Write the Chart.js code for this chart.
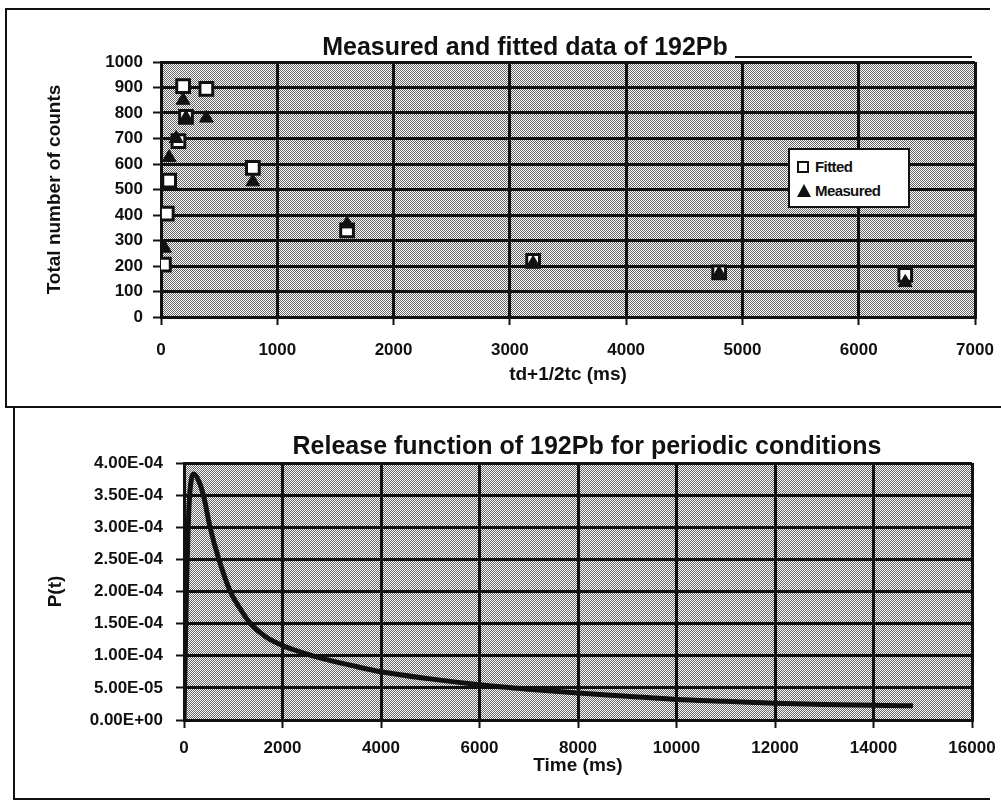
<!DOCTYPE html>
<html>
<head>
<meta charset="utf-8">
<script src="https://cdn.jsdelivr.net/npm/chart.js@4.4.1/dist/chart.umd.min.js"></script>
<style>
  html, body { margin: 0; padding: 0; background: #fff; }
  body { width: 1001px; height: 805px; position: relative; overflow: hidden; font-family: "Liberation Sans", Arial, sans-serif; }
  .wrap { position: absolute; left: 0; width: 1001px; }
  #topWrap { top: 0; height: 407px; }
  #botWrap { top: 407px; height: 398px; }
  .rule { position: absolute; background: #111; }
  #legend {
    position: absolute; left: 788px; top: 148px; width: 118px; height: 56px;
    background: #fff; border: 2px solid #111; font-weight: bold; font-size: 15px;
    font-family: "Liberation Sans", Arial, sans-serif; color: #111; letter-spacing: -0.6px;
  }
  .item { position: absolute; left: 7px; height: 16px; line-height: 16px; }
  .sq { display: inline-block; width: 8px; height: 8px; border: 2px solid #111; background: #fff; vertical-align: -1px; margin-right: 6px; }
  .tri { display: inline-block; width: 0; height: 0; border-left: 7px solid transparent; border-right: 7px solid transparent; border-bottom: 13px solid #111; vertical-align: -1px; margin-right: 4px; }
</style>
</head>
<body>
<div class="wrap" id="topWrap"><canvas id="countsChart" width="1001" height="407"></canvas></div>
<div class="wrap" id="botWrap"><canvas id="releaseChart" width="1001" height="398"></canvas></div>

<!-- page frame lines of the scanned figure -->
<div class="rule" style="left:5px; top:8px; width:985px; height:2px;"></div>
<div class="rule" style="left:5px; top:8px; width:2px; height:400px;"></div>
<div class="rule" style="left:5px; top:406px; width:996px; height:2px;"></div>
<div class="rule" style="left:13px; top:407px; width:2px; height:393px;"></div>
<div class="rule" style="left:13px; top:798px; width:977px; height:2px;"></div>
<div class="rule" style="left:735px; top:56px; width:237px; height:2px;"></div>

<div id="legend">
  <div class="item" style="top:9px;"><span class="sq"></span>Fitted</div>
  <div class="item" style="top:33px;"><span class="tri"></span>Measured</div>
</div>

<script>
// ── Data: measured vs fitted counts (top panel) ───────────────────────────────
const fittedX   = [25, 50, 70, 150, 190, 215, 390, 790, 1600, 3200, 4800, 6400];
const fittedY   = [205, 405, 535, 690, 905, 785, 895, 585, 340, 220, 175, 165];
const measuredX = [30, 70, 130, 190, 215, 390, 790, 1600, 3200, 4800, 6400];
const measuredY = [270, 625, 700, 850, 780, 780, 530, 365, 210, 170, 135];

// ── Data: release function P(t) (bottom panel) ───────────────────────────────
const timeMs   = [0, 50, 100, 150, 200, 300, 400, 530, 700, 940, 1150, 1350, 1650, 2000,
                  2400, 2800, 3400, 4000, 5000, 6000, 7000, 8000, 9000, 10000, 11000,
                  12000, 13000, 14000, 14800];
const releaseP = [0, 2.0e-4, 3.3e-4, 3.75e-4, 3.83e-4, 3.72e-4, 3.48e-4, 3.0e-4, 2.52e-4,
                  2.0e-4, 1.72e-4, 1.5e-4, 1.3e-4, 1.16e-4, 1.05e-4, 0.96e-4, 0.85e-4,
                  0.75e-4, 0.64e-4, 0.55e-4, 0.48e-4, 0.42e-4, 0.37e-4, 0.32e-4, 0.29e-4,
                  0.26e-4, 0.24e-4, 0.23e-4, 0.22e-4];

const INK = "#111";
const FONT = "'Liberation Sans', Arial, sans-serif";

/** Halftone-ish stipple used for the plot background. */
function makeStipple(ctx) {
  const tile = document.createElement("canvas");
  tile.width = 2; tile.height = 2;
  const t = tile.getContext("2d");
  t.fillStyle = "#fff"; t.fillRect(0, 0, 2, 2);
  t.fillStyle = "#666"; t.fillRect(0, 0, 1, 1); t.fillRect(1, 1, 1, 1);
  return ctx.createPattern(tile, "repeat");
}

// paints the plot background and draws the heading text
const panelPlugin = {
  id: "panel",
  beforeDraw(chart, args, opts) {
    const { ctx, chartArea: a } = chart;
    ctx.save();
    ctx.fillStyle = makeStipple(ctx);
    ctx.fillRect(a.left, a.top, a.right - a.left, a.bottom - a.top);
    ctx.restore();
  },
  afterDraw(chart, args, opts) {
    const { ctx } = chart;
    ctx.save();
    ctx.fillStyle = INK;
    ctx.font = `bold ${opts.size}px ${FONT}`;
    ctx.textAlign = "center";
    ctx.textBaseline = "middle";
    ctx.fillText(opts.text, opts.x, opts.y);
    ctx.restore();
  },
};

const plain = (v) => String(v);

function sciLabel(v) {
  if (Math.abs(v) < 1e-12) return "0.00E+00";
  const [m, e] = v.toExponential(2).split("e");
  const n = parseInt(e, 10);
  return `${m}E${n < 0 ? "-" : "+"}${String(Math.abs(n)).padStart(2, "0")}`;
}

function axis(min, max, step, titleText, o) {
  return {
    type: "linear",
    min, max,
    afterFit: o.fit,
    border: { display: true, color: INK, width: 3 },
    grid: { color: INK, lineWidth: 3, tickLength: 8, tickColor: INK, tickWidth: 2 },
    ticks: { stepSize: step, padding: o.tickPad, color: INK, callback: o.fmt || plain,
             font: { family: FONT, weight: "bold", size: 17 } },
    title: { display: true, text: titleText, color: INK, padding: { top: o.titlePad, bottom: 0 },
             font: { family: FONT, weight: "bold", size: 19 } },
  };
}

// x axis: fixed height, and let the end labels hang into the page margin
const fitX = (h) => (s) => { s.height = h; s.paddingLeft = 0; s.paddingRight = 0; };
const fitY = (w) => (s) => { s.width = w; s.paddingTop = 0; s.paddingBottom = 0; };

// ── Top panel: scatter of measured and fitted counts ─────────────────────────
new Chart(document.getElementById("countsChart"), {
  type: "scatter",
  data: {
    datasets: [
      {
        label: "Measured",
        data: measuredX.map((x, i) => ({ x, y: measuredY[i] })),
        pointStyle: "triangle",
        pointRadius: 8,
        borderColor: INK,
        backgroundColor: INK,
        borderWidth: 1,
      },
      {
        label: "Fitted",
        data: fittedX.map((x, i) => ({ x, y: fittedY[i] })),
        pointStyle: "rect",
        pointRadius: 9,
        borderColor: INK,
        backgroundColor: "#fff",
        borderWidth: 3,
      },
    ],
  },
  options: {
    responsive: false,
    animation: false,
    layout: { padding: { top: 62, right: 26, bottom: 21, left: 0 } },
    plugins: {
      legend: { display: false },
      tooltip: { enabled: false },
      panel: { text: "Measured and fitted data of 192Pb", x: 525, y: 48, size: 25 },
    },
    scales: {
      x: axis(0, 7000, 1000, "td+1/2tc (ms)", { fit: fitX(69), tickPad: 15, titlePad: 0 }),
      y: axis(0, 1000, 100, "Total number of counts", { fit: fitY(161), tickPad: 10, titlePad: 43 }),
    },
  },
  plugins: [panelPlugin],
});

// ── Bottom panel: release function curve ─────────────────────────────────────
new Chart(document.getElementById("releaseChart"), {
  type: "scatter",
  data: {
    datasets: [
      {
        label: "P(t)",
        data: timeMs.map((x, i) => ({ x, y: releaseP[i] })),
        showLine: true,
        cubicInterpolationMode: "monotone",
        borderColor: INK,
        borderWidth: 5,
        pointRadius: 0,
        fill: false,
      },
    ],
  },
  options: {
    responsive: false,
    animation: false,
    layout: { padding: { top: 56, right: 29, bottom: 28, left: 0 } },
    plugins: {
      legend: { display: false },
      tooltip: { enabled: false },
      panel: { text: "Release function of 192Pb for periodic conditions", x: 587, y: 40, size: 25 },
    },
    scales: {
      x: axis(0, 16000, 2000, "Time (ms)", { fit: fitX(57), tickPad: 10, titlePad: 0 }),
      y: axis(0, 4e-4, 5e-5, "P(t)", { fit: fitY(184), tickPad: 13, titlePad: 44, fmt: sciLabel }),
    },
  },
  plugins: [panelPlugin],
});
</script>
</body>
</html>
